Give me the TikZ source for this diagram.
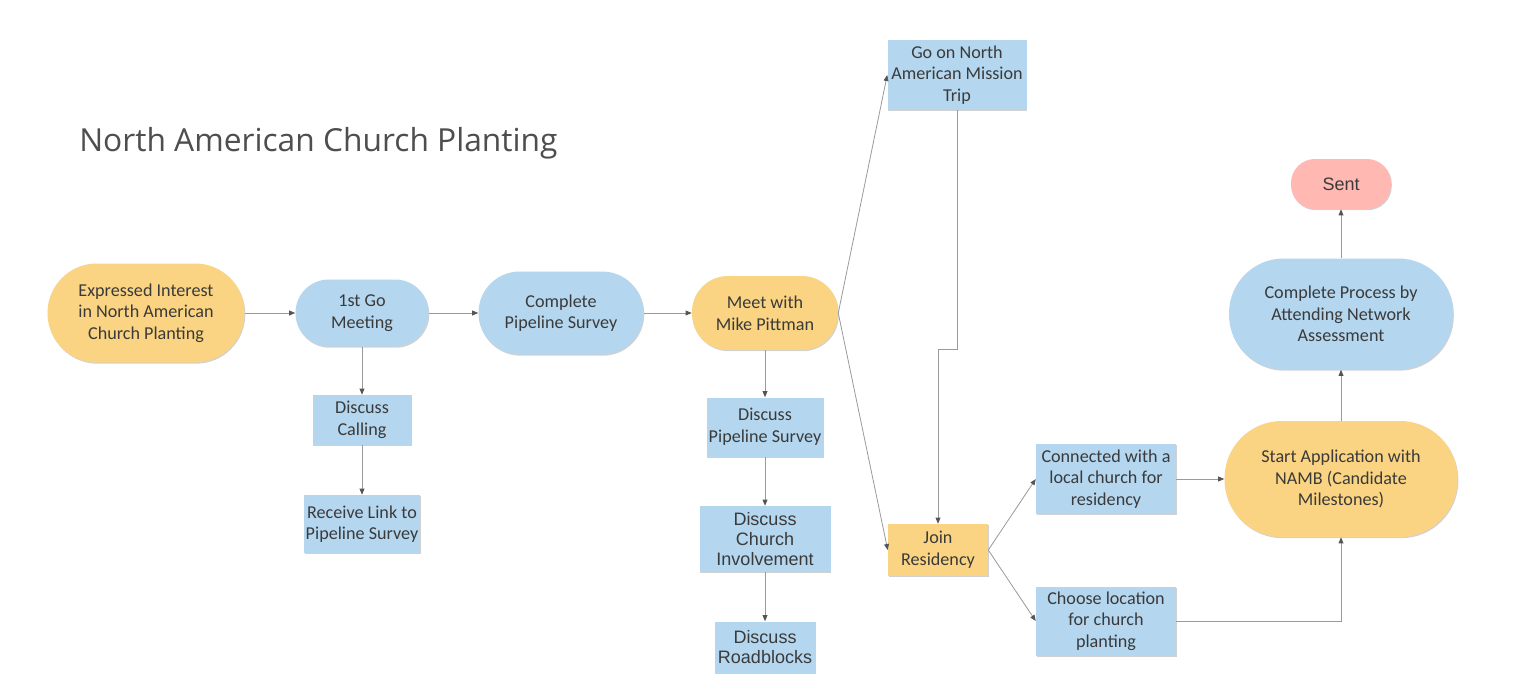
\documentclass[tikz,border=0pt]{standalone}
\usepackage{fontspec}
\setmainfont{Carlito}
\newfontfamily\arialfont{Liberation Sans}
\newfontfamily\titlefont{Open Sans}
\usetikzlibrary{arrows.meta, shadows}
\definecolor{planorange}{HTML}{FAD482}
\definecolor{planblue}{HTML}{B4D7EF}
\definecolor{planpink}{HTML}{FFB8B2}
\definecolor{plantext}{HTML}{3A3A3A}
\definecolor{planline}{HTML}{9A9A9A}
\definecolor{plantip}{HTML}{555555}

\tikzset{
  base/.style={draw=none, text=plantext, align=center, inner sep=0pt,
    font=\fontsize{13.6}{16.2}\selectfont,
    drop shadow={shadow xshift=0.6pt, shadow yshift=-0.9pt, opacity=0.18, fill=black}},
  dims/.style 2 args={minimum width=#1, minimum height=#2},
  pill/.style={base, rounded corners=#1},
  stepbox/.style={base},
  arialtext/.style={font=\arialfont\fontsize{13.5}{15}\selectfont},
  flow/.style={draw=planline, line width=0.6pt,
    -{Triangle[length=4.5pt, width=3.6pt, color=plantip]}}
}

\begin{document}
\begin{tikzpicture}[x=0.75pt, y=-0.75pt]
  % Canvas
  \fill[white] (0,0) rectangle (1538,674);
  \useasboundingbox (0,0) rectangle (1538,674);

  % Title
  \node[text=plantext!90, anchor=west, inner sep=0pt, font=\titlefont\fontsize{23.8}{26}\selectfont] (title) at (79,143) {North American Church Planting};

  % Main row
  \node[pill=37pt, fill=planorange, dims={147.75pt}{74.25pt}] (expr) at (146,313) {Expressed Interest\\in North American\\Church Planting};
  \node[pill=25pt, fill=planblue, dims={99.75pt}{50.25pt}] (firstgo) at (362,313) {1st Go\\Meeting};
  \node[pill=31pt, fill=planblue, dims={123.75pt}{62.25pt}] (pipeline) at (561,313) {Complete\\Pipeline Survey};
  \node[pill=27pt, fill=planorange, dims={109.5pt}{55.5pt}] (meet) at (765,313) {Meet with\\Mike Pittman};

  % Under 1st Go Meeting
  \node[stepbox, fill=planblue, dims={74.25pt}{37.5pt}] (calling) at (362,420) {Discuss\\Calling};
  \node[stepbox, fill=planblue, dims={87pt}{43.5pt}] (link) at (362,524) {Receive Link to\\Pipeline Survey};

  % Under Meet with Mike Pittman
  \node[stepbox, fill=planblue, dims={87.75pt}{44.25pt}] (discpipe) at (765,427) {Discuss\\Pipeline Survey};
  \node[stepbox, arialtext, fill=planblue, dims={98.25pt}{49.5pt}] (involve) at (765,539) {Discuss\\Church\\Involvement};
  \node[stepbox, arialtext, fill=planblue, dims={75.75pt}{38.25pt}] (roadblocks) at (765,647) {Discuss\\Roadblocks};

  % Residency branch
  \node[stepbox, fill=planblue, dims={104.25pt}{51.75pt}] (trip) at (957,75) {Go on North\\American Mission\\Trip};
  \node[stepbox, fill=planorange, dims={75pt}{39pt}] (join) at (938,550) {Join\\Residency};
  \node[stepbox, fill=planblue, dims={105pt}{52.5pt}] (connected) at (1106,479) {Connected with a\\local church for\\residency};
  \node[stepbox, fill=planblue, dims={105pt}{51.75pt}] (choose) at (1106,621) {Choose location\\for church\\planting};

  % Final column
  \node[pill=43pt, fill=planorange, dims={174.75pt}{87pt}] (start) at (1341,479) {Start Application with\\NAMB (Candidate\\Milestones)};
  \node[pill=41pt, fill=planblue, dims={168pt}{83.25pt}] (assess) at (1341,314) {Complete Process by\\Attending Network\\Assessment};
  \node[pill=18pt, arialtext, fill=planpink, dims={75pt}{37.5pt}] (sent) at (1341,184) {Sent};

  % Connectors
  \draw[flow] (expr) -- (firstgo);
  \draw[flow] (firstgo) -- (pipeline);
  \draw[flow] (pipeline) -- (meet);
  \draw[flow] (firstgo) -- (calling);
  \draw[flow] (calling) -- (link);
  \draw[flow] (meet) -- (discpipe);
  \draw[flow] (discpipe) -- (involve);
  \draw[flow] (involve) -- (roadblocks);
  \draw[flow] (meet.east) -- (trip.west);
  \draw[flow] (meet.east) -- (join.west);
  \draw[flow] (trip.south) -- ++(0,240) -| (join.north);
  \draw[flow] (join.east) -- (connected.west);
  \draw[flow] (join.east) -- (choose.west);
  \draw[flow] (connected) -- (start);
  \draw[flow] (choose.east) -| (start.south);
  \draw[flow] (start) -- (assess);
  \draw[flow] (assess) -- (sent);
\end{tikzpicture}
\end{document}
